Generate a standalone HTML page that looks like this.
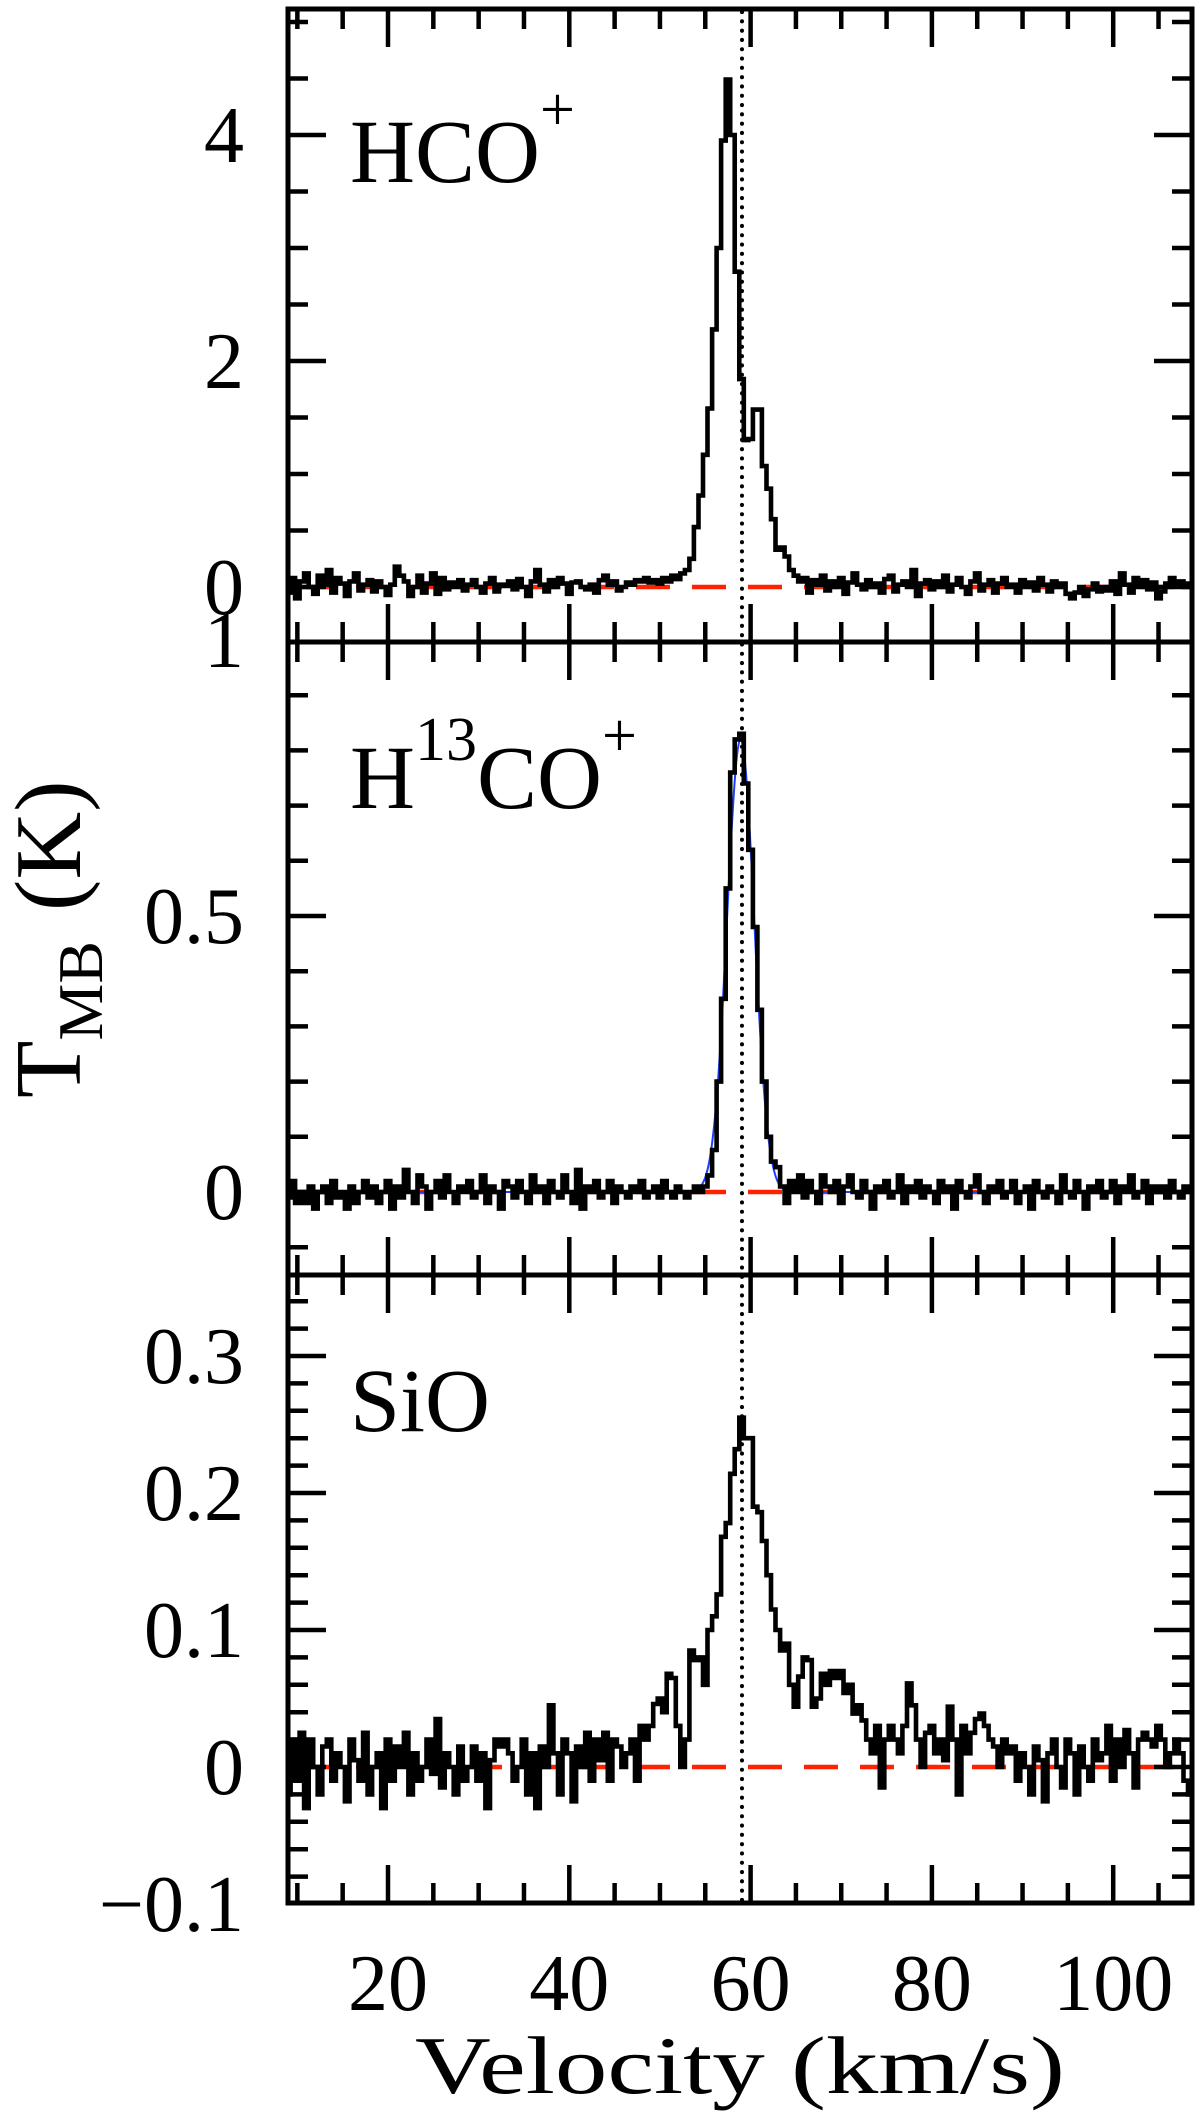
<!DOCTYPE html>
<html><head><meta charset="utf-8"><style>
html,body{margin:0;padding:0;background:#fff;}
body{position:relative;}
svg{display:block;}
text{font-family:"Liberation Serif",serif;fill:#000;}
</style></head><body>
<svg id="chart" width="1200" height="2120" viewBox="0 0 1200 2120" xmlns="http://www.w3.org/2000/svg">
<g id="layer"></g>
</svg>
<script>
// ---- data ----
const vStart = 9;
const vStep = 0.5;
const hcoValues = [
-0.05,0.08,-0.1,0.05,0.12,0.0,-0.06,0.1,0.02,0.15,-0.05,0.08,0.03,-0.08,0.05,0.12,-0.03,0.02,0.06,-0.04,
0.05,0.0,-0.07,0.02,0.18,0.1,0.05,-0.08,0.0,0.1,-0.05,0.03,0.12,-0.06,0.08,-0.02,0.04,0.0,0.06,-0.03,
0.02,0.06,0.0,-0.05,0.03,0.08,-0.04,0.02,0.01,0.05,-0.02,0.07,0.0,-0.08,0.05,0.15,0.02,-0.04,0.06,0.0,
0.08,0.03,-0.06,0.04,0.05,0.0,-0.02,0.02,-0.05,0.06,0.1,0.02,0.05,-0.03,0.0,0.04,0.02,0.06,0.05,0.08,
0.04,0.06,0.03,0.08,0.05,0.1,0.07,0.12,0.15,0.25,0.53,0.81,1.17,1.58,2.28,3.0,3.95,4.49,4.0,2.79,
1.84,1.3,1.31,1.57,1.57,1.07,0.87,0.6,0.33,0.35,0.27,0.15,0.1,0.05,0.08,-0.05,0.06,0.02,0.1,-0.03,
0.05,0.0,0.08,-0.06,0.04,0.12,0.02,-0.02,0.06,0.0,0.03,-0.05,0.07,0.1,-0.04,0.02,0.05,0.0,0.15,-0.08,
0.03,0.06,-0.02,0.05,0.0,0.1,-0.04,0.02,0.08,0.0,-0.06,0.05,0.12,-0.03,0.02,0.06,-0.05,0.03,0.08,0.0,
0.02,-0.05,0.06,0.0,0.04,-0.03,0.08,0.02,-0.04,0.05,0.0,0.03,-0.06,-0.1,-0.05,0.0,-0.08,-0.02,0.03,-0.04,
0.0,-0.03,0.05,-0.06,0.12,0.02,-0.05,0.08,0.0,0.06,-0.02,0.04,-0.1,-0.04,0.03,0.08,0.02,0.05,0.0,0.03];
const h13coValues = [
-0.01,0.02,-0.02,0.0,-0.02,0.01,-0.03,0.0,0.01,-0.02,0.02,-0.01,0.0,-0.03,0.01,-0.02,0.0,0.02,-0.01,0.01,
-0.02,0.0,0.02,-0.03,0.01,-0.01,0.04,0.0,-0.02,0.03,0.01,-0.03,0.0,0.02,-0.01,0.03,0.0,-0.02,0.01,0.0,
0.02,-0.01,0.0,0.03,-0.02,0.01,0.0,-0.03,0.02,0.01,-0.01,0.02,0.0,-0.02,0.03,0.0,0.01,-0.02,0.02,0.0,
-0.01,0.03,0.0,-0.02,0.04,-0.03,0.01,0.0,0.02,-0.01,0.0,0.02,-0.02,0.01,0.0,-0.01,0.01,0.0,0.02,-0.01,
0.0,0.01,-0.01,0.02,0.0,-0.01,0.01,0.0,-0.01,0.0,0.01,0.0,0.01,0.03,0.076,0.2,0.35,0.55,0.76,0.82,
0.83,0.74,0.62,0.48,0.33,0.2,0.1,0.055,0.045,0.01,-0.02,0.02,0.0,0.03,-0.01,0.02,0.0,-0.02,0.03,0.01,
0.0,0.02,-0.02,0.01,0.03,0.0,-0.01,0.02,0.0,-0.03,0.01,0.0,0.02,-0.01,0.0,0.03,-0.02,0.01,0.0,0.02,
-0.01,0.01,0.0,-0.02,0.02,0.0,0.01,-0.03,0.02,0.0,-0.01,0.01,0.03,0.0,-0.02,0.01,0.0,0.02,-0.01,0.0,
0.02,-0.02,0.0,0.01,-0.03,0.02,0.0,-0.01,0.01,0.0,-0.02,0.03,0.0,-0.01,0.02,0.0,-0.03,0.01,0.0,0.02,
-0.01,0.0,0.02,-0.02,0.01,0.0,0.03,-0.01,0.0,0.02,-0.02,0.01,0.0,0.01,-0.01,0.02,0.0,-0.01,0.01,0.0];
const sioValues = [
-0.02,0.02,-0.01,0.025,-0.03,0.02,0.0,-0.02,0.015,0.02,-0.01,0.01,0.0,-0.025,0.02,0.005,-0.01,0.025,-0.02,0.0,
0.01,-0.03,0.02,-0.01,0.015,0.0,0.025,-0.02,0.01,-0.01,0.0,0.02,-0.005,0.035,-0.015,0.01,0.0,-0.02,0.015,-0.01,
0.0,0.015,-0.01,0.01,-0.03,0.005,0.02,0.015,0.02,0.01,-0.01,0.0,0.02,-0.02,0.01,-0.03,0.015,0.0,0.045,0.01,
-0.02,0.02,0.01,-0.025,0.015,0.0,0.025,-0.01,0.02,0.005,0.025,-0.01,0.02,0.015,0.0,0.01,0.02,-0.01,0.03,0.02,
0.03,0.046,0.05,0.04,0.068,0.065,0.03,0.0,0.02,0.085,0.078,0.08,0.06,0.1,0.11,0.126,0.168,0.178,0.214,0.232,
0.255,0.24,0.24,0.19,0.186,0.165,0.14,0.115,0.10,0.085,0.09,0.06,0.044,0.066,0.08,0.078,0.044,0.05,0.068,0.06,
0.07,0.065,0.07,0.054,0.06,0.039,0.045,0.034,0.02,0.01,0.03,-0.015,0.02,0.03,0.02,0.01,0.03,0.061,0.045,0.02,
0.0,0.025,0.03,0.01,0.02,0.005,0.044,0.02,-0.02,0.03,0.01,0.025,0.035,0.039,0.03,0.02,0.015,0.0,0.02,0.01,
0.015,-0.01,0.01,0.0,-0.02,0.015,0.005,-0.025,0.01,0.02,0.0,-0.015,0.02,0.01,-0.02,0.015,0.0,-0.01,0.02,0.005,
0.01,0.03,-0.01,0.02,0.0,0.027,0.01,-0.015,0.02,0.025,0.02,0.015,0.03,0.02,0.0,0.01,0.02,0.01,-0.01,-0.02];
const gaussFit = [0.82, 58.9, 1.49]; // amplitude, centre, sigma
const vRef = 59.05;
const xTickValues = [10,15,20,25,30,35,40,45,50,55,60,65,70,75,80,85,90,95,100,105];
const xTickLabels = ["20","40","60","80","100"];
const p1TickLabels = ["0","2","4"];
const p2TickLabels = ["0","0.5","1"];
const p3TickLabels = ["−0.1","0","0.1","0.2","0.3"];

// ---- layout ----
const NS = "http://www.w3.org/2000/svg";
const layer = document.getElementById("layer");
const L = 288, R = 1192;
const X = v => 206.7 + 9.065 * v;
const panels = [
 {name:"hco", top:9, bot:642, y0:587, k:113, vals:hcoValues, minors:0.5, majors:2, lo:-0.5, hi:5.1, labels:p1TickLabels},
 {name:"h13co", top:642, bot:1275, y0:1192, k:552, vals:h13coValues, minors:0.1, majors:0.5, lo:-0.15, hi:1.0, labels:p2TickLabels},
 {name:"sio", top:1275, bot:1903, y0:1767, k:1370, vals:sioValues, minors:0.02, majors:0.1, lo:-0.1, hi:0.37, labels:p3TickLabels}
];
function mk(tag, attrs, parent){
  const e = document.createElementNS(NS, tag);
  for (const a in attrs) e.setAttribute(a, attrs[a]);
  (parent||layer).appendChild(e);
  return e;
}

const defs = mk("defs", {});
panels.forEach((p,i)=>{
  const cp = mk("clipPath", {id:"clip"+i}, defs);
  mk("rect", {x:L, y:p.top, width:R-L, height:p.bot-p.top}, cp);
});

panels.forEach((p,i)=>{
  const Y = t => p.y0 - p.k * t;
  const g = mk("g", {});
  
  
  const z = mk("line", {x1:300, x2:R, y1:Y(0), y2:Y(0), stroke:"#ff2200", "stroke-width":4.5, "stroke-dasharray":"34 22"}, g);
  
  
  if (p.name === "h13co") {
    let d = "";
    for (let v = 9; v <= 108.7; v += 0.1) {
      const t = gaussFit[0] * Math.exp(-0.5 * Math.pow((v - gaussFit[1]) / gaussFit[2], 2));
      d += (d ? "L" : "M") + X(v).toFixed(1) + "," + Y(t).toFixed(1);
    }
    const gf = mk("path", {d:d, fill:"none", stroke:"#1f3fff", "stroke-width":2, "clip-path":"url(#clip"+i+")"}, g);
    
    
  }
  let d = "";
  p.vals.forEach((t, j) => {
    const v = vStart + vStep * j;
    const xa = X(v - vStep/2), xb = X(v + vStep/2), y = Y(t);
    d += (j ? "L" : "M") + xa.toFixed(1) + "," + y.toFixed(1) + "L" + xb.toFixed(1) + "," + y.toFixed(1);
  });
  const sp = mk("path", {d:d, fill:"none", stroke:"#000", "stroke-width":4.6, "stroke-linejoin":"miter", "clip-path":"url(#clip"+i+")"}, g);
  
  
  const n0 = Math.ceil(p.lo / p.minors - 1e-6), n1 = Math.floor(p.hi / p.minors + 1e-6);
  for (let n = n0; n <= n1; n++) {
    const t = n * p.minors;
    const y = Y(t);
    if (y < p.top + 3 || y > p.bot - 3) continue;
    const maj = Math.abs(t / p.majors - Math.round(t / p.majors)) < 1e-6;
    const len = maj ? 38 : 20;
    const a = mk("line", {x1:L, x2:L+len, y1:y, y2:y, stroke:"#000", "stroke-width":4.5}, g);
    
    
    const b = mk("line", {x1:R-len, x2:R, y1:y, y2:y, stroke:"#000", "stroke-width":4.5}, g);
    
    
  }
  p.labels.forEach(s => {
    const t = parseFloat(s.replace("−","-"));
    const tx = mk("text", {x:244, y:Y(t) + 27, "font-size":80, "text-anchor":"end"}, g);
    tx.textContent = s;
    
    
  });
  xTickValues.forEach(v => {
    const maj = v % 20 === 0;
    const len = maj ? 38 : 20;
    const a = mk("line", {x1:X(v), x2:X(v), y1:p.top, y2:p.top+len, stroke:"#000", "stroke-width":4.5}, g);
    
    
    const b = mk("line", {x1:X(v), x2:X(v), y1:p.bot-len, y2:p.bot, stroke:"#000", "stroke-width":4.5}, g);
    
    
  });
  const fr = mk("rect", {x:L, y:p.top, width:R-L, height:p.bot-p.top, fill:"none", stroke:"#000", "stroke-width":5}, g);
  
  
});

const ref = mk("line", {x1:X(vRef), x2:X(vRef), y1:12, y2:1900, stroke:"#000", "stroke-width":4, "stroke-linecap":"round", "stroke-dasharray":"0.1 9.2"});



xTickLabels.forEach(s => {
  const t = mk("text", {x:X(parseFloat(s)), y:2010, "font-size":80, "text-anchor":"middle"});
  t.textContent = s;
  
  
});
</script>
<svg style="position:absolute;left:0;top:0" width="1200" height="2120">
<text x="740" y="2093" font-size="82" text-anchor="middle" textLength="650" lengthAdjust="spacingAndGlyphs" style="font-family:'Liberation Serif',serif">Velocity (km/s)</text>
<text transform="translate(80,1098) rotate(-90)" font-size="94" style="font-family:'Liberation Serif',serif">T<tspan font-size="64" dy="22">MB</tspan><tspan dy="-22" dx="30">(K)</tspan></text>
<text x="350" y="182" font-size="90" style="font-family:'Liberation Serif',serif">HCO<tspan font-size="62" dy="-52">+</tspan></text>
<text x="350" y="808" font-size="90" style="font-family:'Liberation Serif',serif">H<tspan font-size="62" dy="-48">13</tspan><tspan dy="48">CO</tspan><tspan font-size="62" dy="-52">+</tspan></text>
<text x="350" y="1431" font-size="90" style="font-family:'Liberation Serif',serif">SiO</text>
</svg>
</body></html>
